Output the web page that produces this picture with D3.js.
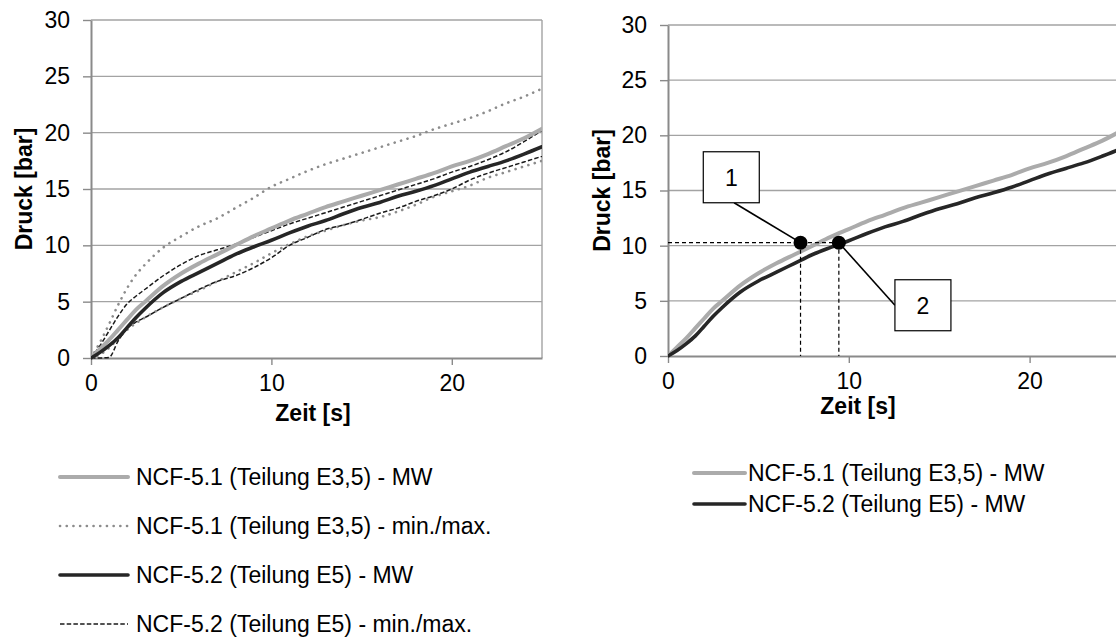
<!DOCTYPE html>
<html>
<head>
<meta charset="utf-8">
<script src="https://cdn.jsdelivr.net/npm/d3@7"></script>
<style>
  html, body { margin: 0; padding: 0; background: #fff; }
  svg { display: block; font-family: "Liberation Sans", Arial, sans-serif; }
</style>
</head>
<body>
<svg id="chart" width="1116" height="639"></svg>
<script>
// Zeit [s]
const time = [0, 0.5, 1, 1.5, 2, 2.5, 3, 4, 5, 6, 7, 8, 9, 10, 11, 12, 13, 14, 15, 16, 17, 18, 19, 20, 21, 22, 23, 24, 25];

// Druck [bar] – NCF-5.1 (Teilung E3,5)
const nc51Mean = [0, 0.8, 1.6, 2.5, 3.4, 4.3, 5.0, 6.4, 7.5, 8.4, 9.2, 10.0, 10.8, 11.5, 12.2, 12.8, 13.4, 13.9, 14.4, 14.9, 15.4, 15.9, 16.4, 17.0, 17.5, 18.1, 18.8, 19.5, 20.35];
const nc51Max  = [0, 1.4, 3.0, 4.7, 6.2, 7.4, 8.3, 9.8, 10.8, 11.7, 12.4, 13.3, 14.2, 15.2, 15.9, 16.6, 17.2, 17.7, 18.2, 18.7, 19.2, 19.7, 20.3, 20.8, 21.3, 21.9, 22.6, 23.2, 23.9];
const nc51Min  = [0, 0.3, 0.9, 1.7, 2.5, 3.1, 3.6, 4.5, 5.3, 6.0, 6.8, 7.6, 8.4, 9.3, 10.1, 10.8, 11.3, 11.8, 12.2, 12.5, 13.0, 13.6, 14.3, 14.8, 15.3, 16.0, 16.5, 17.0, 17.5];

// Druck [bar] – NCF-5.2 (Teilung E5)
const nc52Mean = [0, 0.5, 1.1, 1.8, 2.7, 3.6, 4.4, 5.8, 6.8, 7.6, 8.4, 9.2, 9.85, 10.45, 11.1, 11.7, 12.2, 12.8, 13.35, 13.8, 14.35, 14.8, 15.3, 15.9, 16.5, 17.0, 17.5, 18.1, 18.75];
const nc52Max  = [0, 1.1, 2.4, 3.7, 4.8, 5.5, 6.1, 7.3, 8.3, 9.1, 9.6, 10.1, 10.7, 11.3, 11.9, 12.4, 12.9, 13.4, 13.9, 14.4, 14.9, 15.4, 15.9, 16.5, 17.0, 17.6, 18.3, 19.2, 20.2];
const nc52Min  = [0, 0, 0.05, 1.5, 2.6, 3.2, 3.6, 4.5, 5.3, 6.1, 6.8, 7.3, 8.0, 8.9, 10.0, 10.7, 11.4, 11.8, 12.3, 12.85, 13.3, 13.9, 14.4, 15.0, 15.8, 16.4, 16.9, 17.4, 17.9];

// Axis ticks
const xTicks = [0, 10, 20];
const yTicks = [0, 5, 10, 15, 20, 25, 30];

// Marked points on the right chart (same pressure level)
const markLabels   = ["1", "2"];
const markTime     = [7.33, 9.45];
const markPressure = [10.27, 10.27];

// Legend texts
const legendLeft = [
  "NCF-5.1 (Teilung E3,5) - MW",
  "NCF-5.1 (Teilung E3,5) - min./max.",
  "NCF-5.2 (Teilung E5) - MW",
  "NCF-5.2 (Teilung E5) - min./max."
];
const legendRight = [
  "NCF-5.1 (Teilung E3,5) - MW",
  "NCF-5.2 (Teilung E5) - MW"
];

// ---- styles ----
const FONT = 23;
const LEGEND_FONT = 23;
const GRID = "#a3a3a3";
const AXIS = "#8a8a8a";
const styles = {
  mean51: { stroke: "#ababab", width: 4, dash: null, cap: "round" },
  range51: { stroke: "#8c8c8c", width: 2.6, dash: "0.1,6.6", cap: "round" },
  mean52: { stroke: "#262626", width: 3.6, dash: null, cap: "round" },
  range52: { stroke: "#1a1a1a", width: 1.5, dash: "4.5,2.2", cap: "butt" }
};

const svg = d3.select("#chart");
svg.append("rect").attr("width", 1116).attr("height", 639).attr("fill", "#fff");

const toPoints = arr => time.map((t, i) => [t, arr[i]]);

function drawPanel(cfg) {
  const { x, y, id } = cfg;
  const g = svg.append("g");
  const [x0, x1] = x.range();
  const [y0, y1] = y.range();

  g.append("clipPath").attr("id", id)
    .append("rect")
    .attr("x", x0).attr("y", y1 - 2)
    .attr("width", x1 - x0).attr("height", y0 - y1 + 4);

  // horizontal gridlines
  g.append("g").selectAll("line").data(yTicks.filter(v => v > 0)).join("line")
    .attr("x1", x0).attr("x2", x1)
    .attr("y1", d => y(d)).attr("y2", d => y(d))
    .attr("stroke", GRID).attr("stroke-width", 1.4);

  if (cfg.frame) {
    g.append("line").attr("x1", x1).attr("x2", x1).attr("y1", y1).attr("y2", y0)
      .attr("stroke", GRID).attr("stroke-width", 1.4);
  }

  // axes
  const yAxis = d3.axisLeft(y).tickValues(yTicks).tickSize(8).tickSizeOuter(0).tickPadding(13);
  const xAxis = d3.axisBottom(x).tickValues(xTicks).tickSize(7).tickSizeOuter(0).tickPadding(10);

  const ya = g.append("g").attr("transform", `translate(${x0},0)`).call(yAxis);
  const xa = g.append("g").attr("transform", `translate(0,${y0})`).call(xAxis);
  [ya, xa].forEach(a => {
    a.select(".domain").attr("stroke", AXIS).attr("stroke-width", 2);
    a.selectAll(".tick line").attr("stroke", AXIS).attr("stroke-width", 1.4);
    a.selectAll("text").attr("font-size", FONT).attr("fill", "#000")
      .attr("font-family", "'Liberation Sans', Arial, sans-serif");
  });

  // axis titles
  g.append("text")
    .attr("transform", `translate(${cfg.yTitleX},${(y0 + y1) / 2}) rotate(-90)`)
    .attr("text-anchor", "middle").attr("dy", "0.36em")
    .attr("font-size", FONT).attr("font-weight", "bold").text("Druck [bar]");
  g.append("text")
    .attr("x", cfg.xTitleX).attr("y", cfg.xTitleY)
    .attr("text-anchor", "middle")
    .attr("font-size", FONT).attr("font-weight", "bold").text("Zeit [s]");

  // series
  const line = d3.line().x(d => x(d[0])).y(d => y(d[1])).curve(d3.curveMonotoneX);
  const plot = g.append("g").attr("clip-path", `url(#${id})`);
  cfg.series.forEach(s => {
    const st = styles[s.style];
    plot.append("path")
      .attr("d", line(toPoints(s.values)))
      .attr("fill", "none")
      .attr("stroke", st.stroke)
      .attr("stroke-width", st.width)
      .attr("stroke-linecap", st.cap)
      .attr("stroke-linejoin", "round")
      .attr("stroke-dasharray", st.dash);
  });
  return { g, plot };
}

function drawLegend(items, styleKeys, cfg) {
  const lg = svg.append("g");
  items.forEach((label, i) => {
    const st = styles[styleKeys[i]];
    const cy = cfg.y + i * cfg.step;
    lg.append("line")
      .attr("x1", cfg.x1).attr("x2", cfg.x2).attr("y1", cy).attr("y2", cy)
      .attr("stroke", st.stroke)
      .attr("stroke-width", st.width)
      .attr("stroke-linecap", st.cap)
      .attr("stroke-dasharray", st.dash);
    lg.append("text")
      .attr("x", cfg.tx).attr("y", cy).attr("dy", "0.36em")
      .attr("font-size", LEGEND_FONT).attr("fill", "#000").text(label);
  });
}

// ---- left panel: means and min/max bands ----
const xL = d3.scaleLinear().domain([0, 25]).range([91, 542]);
const yL = d3.scaleLinear().domain([0, 30]).range([358, 20]);
drawPanel({
  id: "clipL", x: xL, y: yL, frame: true,
  yTitleX: 24, xTitleX: 313, xTitleY: 421,
  series: [
    { values: nc51Max, style: "range51" },
    { values: nc51Min, style: "range51" },
    { values: nc52Max, style: "range52" },
    { values: nc52Min, style: "range52" },
    { values: nc51Mean, style: "mean51" },
    { values: nc52Mean, style: "mean52" }
  ]
});
drawLegend(legendLeft, ["mean51", "range51", "mean52", "range52"],
  { x1: 60, x2: 128, tx: 136, y: 477, step: 49 });

// ---- right panel: means with marked points ----
const xR = d3.scaleLinear().domain([0, 25]).range([668, 1120]);
const yR = d3.scaleLinear().domain([0, 30]).range([356, 25]);
drawPanel({
  id: "clipR", x: xR, y: yR, frame: false,
  yTitleX: 602, xTitleX: 858, xTitleY: 414,
  series: [
    { values: nc51Mean, style: "mean51" },
    { values: nc52Mean, style: "mean52" }
  ]
});
drawLegend(legendRight, ["mean51", "mean52"],
  { x1: 694, x2: 745, tx: 748, y: 473, step: 31 });

// guide lines from the marked points to the axes
const ann = svg.append("g");
const dashed = { stroke: "#000", "stroke-width": 1.2, "stroke-dasharray": "4,3" };
const setAttrs = (sel, o) => { Object.entries(o).forEach(([k, v]) => sel.attr(k, v)); return sel; };
setAttrs(ann.append("line")
  .attr("x1", xR(0)).attr("x2", xR(d3.max(markTime)))
  .attr("y1", yR(markPressure[0])).attr("y2", yR(markPressure[0])), dashed);
markTime.forEach((t, i) => {
  setAttrs(ann.append("line")
    .attr("x1", xR(t)).attr("x2", xR(t))
    .attr("y1", yR(markPressure[i])).attr("y2", yR(0)), dashed);
});

// callout boxes (placed in data coordinates)
const callouts = [
  { cx: 3.5, cy: 16.2, ax: 0.1, ay: 1 },   // leader leaves from bottom edge
  { cx: 14.1, cy: 4.6, ax: -1, ay: 0 }     // leader leaves from left edge
];
const boxW = 56, boxH = 51;
markLabels.forEach((lab, i) => {
  const c = callouts[i];
  const bx = xR(c.cx), by = yR(c.cy);
  const lx = bx + c.ax * boxW / 2, ly = by + c.ay * boxH / 2;
  ann.append("line")
    .attr("x1", lx).attr("y1", ly)
    .attr("x2", xR(markTime[i])).attr("y2", yR(markPressure[i]))
    .attr("stroke", "#000").attr("stroke-width", 1.6);
  ann.append("rect")
    .attr("x", bx - boxW / 2).attr("y", by - boxH / 2)
    .attr("width", boxW).attr("height", boxH)
    .attr("fill", "#fff").attr("stroke", "#000").attr("stroke-width", 1.2);
  ann.append("text")
    .attr("x", bx).attr("y", by).attr("dy", "0.36em")
    .attr("text-anchor", "middle").attr("font-size", FONT).text(lab);
});
ann.selectAll("circle.mark").data(markTime).join("circle")
  .attr("class", "mark")
  .attr("cx", d => xR(d)).attr("cy", (d, i) => yR(markPressure[i]))
  .attr("r", 7).attr("fill", "#000");
</script>
</body>
</html>
